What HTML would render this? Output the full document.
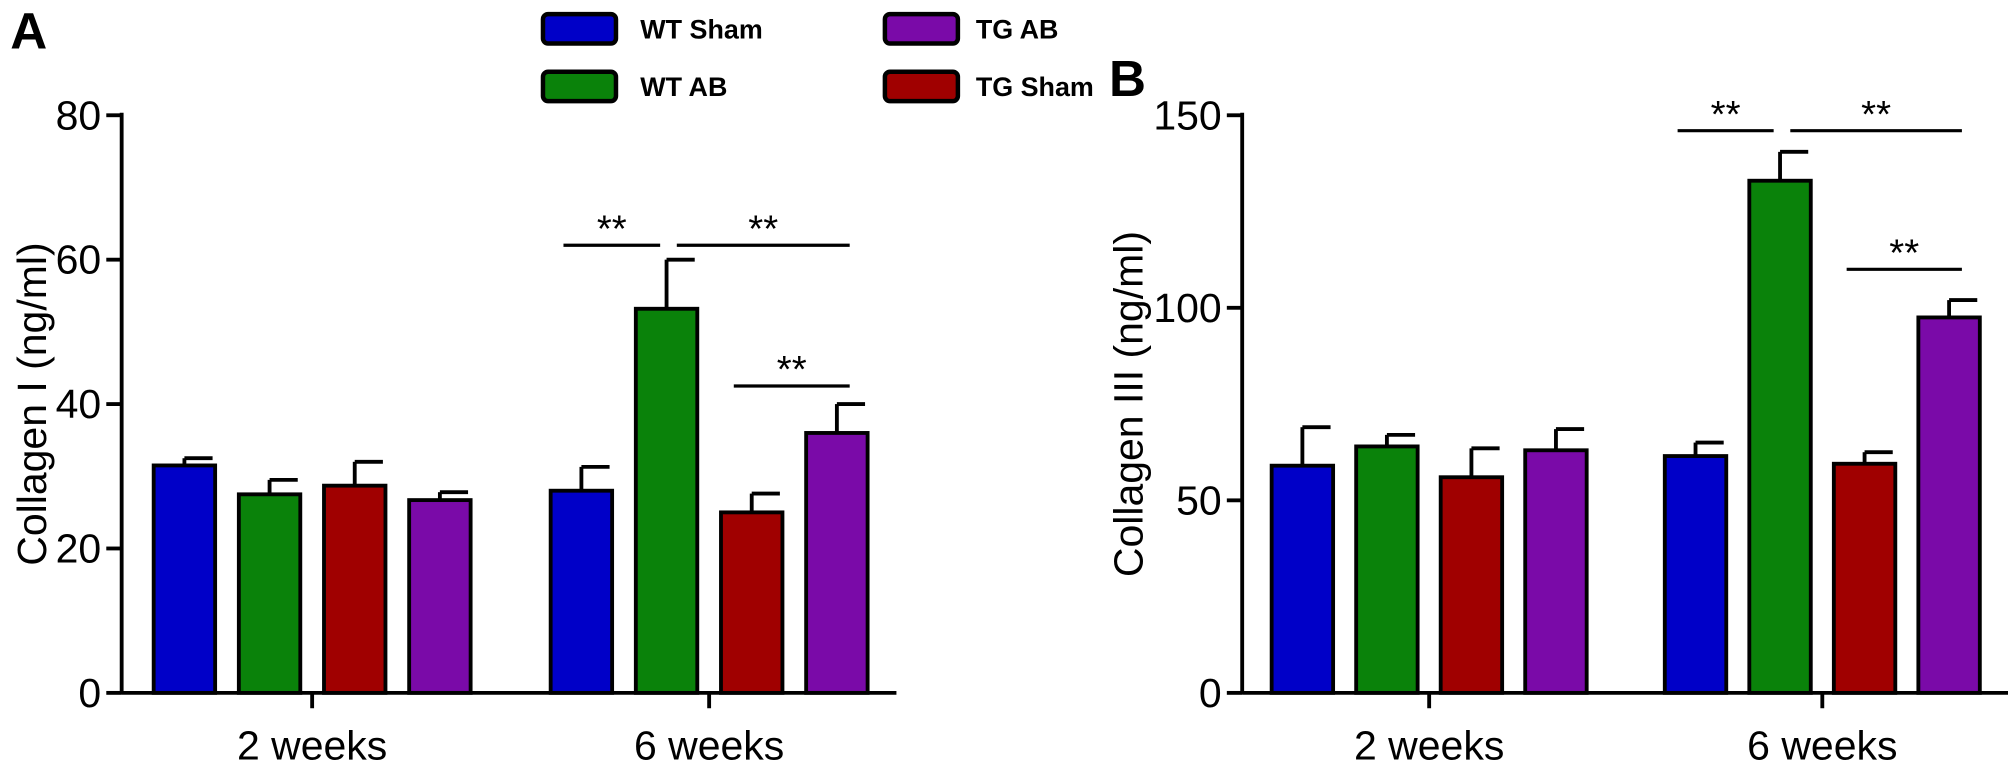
<!DOCTYPE html>
<html><head><meta charset="utf-8"><style>
body{margin:0;background:#fff;}
svg{display:block;font-family:"Liberation Sans",Arial,sans-serif;}
</style></head><body>
<svg id="chart" width="2008" height="771" viewBox="0 0 1568 602" preserveAspectRatio="none">
<text x="8" y="38" font-size="40" font-weight="bold">A</text>
<text x="866" y="75" font-size="40" font-weight="bold">B</text>
<g id="legend">
<g><rect x="424" y="11" width="57" height="23" rx="4" fill="#0000c8" stroke="#000" stroke-width="3.5"/><text x="500" y="30" font-size="21" font-weight="bold">WT Sham</text></g>
<g><rect x="424" y="56" width="57" height="23" rx="4" fill="#0a820a" stroke="#000" stroke-width="3.5"/><text x="500" y="75" font-size="21" font-weight="bold">WT AB</text></g>
<g><rect x="691" y="11" width="57" height="23" rx="4" fill="#7a0aa8" stroke="#000" stroke-width="3.5"/><text x="762" y="30" font-size="21" font-weight="bold">TG AB</text></g>
<g><rect x="691" y="56" width="57" height="23" rx="4" fill="#a00000" stroke="#000" stroke-width="3.5"/><text x="762" y="75" font-size="21" font-weight="bold">TG Sham</text></g>
</g>
</svg>
<script>
const groups=["2 weeks","6 weeks"];
const series=["WT Sham","WT AB","TG Sham","TG AB"];
const colors=["#0000c8","#0a820a","#a00000","#7a0aa8"];
const aMeans=[[31.5,27.5,28.7,26.7],[28,53.2,25,36]];
const aErr=[[1,2,3.3,1.1],[3.3,6.8,2.6,4]];
const aTicks=[0,20,40,60,80];
const bMeans=[[59,64,56,63],[61.5,133,59.5,97.5]];
const bErr=[[10,3,7.5,5.5],[3.5,7.5,3,4.5]];
const bTicks=[0,50,100,150];
const aSig=[[0,1,62],[1,3,62],[2,3,42.5]];
const bSig=[[0,1,146],[1,3,146],[2,3,110]];
const NS="http://www.w3.org/2000/svg";
const svg=document.getElementById('chart');
function mk(tag,attrs,parent){const e=document.createElementNS(NS,tag);for(const k in attrs)e.setAttribute(k,attrs[k]);(parent||svg).appendChild(e);return e;}
function panel(p){
  const g=mk('g',{});
  
  
  const y=v=>p.y0-(v/p.max)*(p.y0-90);
  const x=(gi,si)=>p.x0+gi*p.gStep+si*p.bStep;
  const ya=mk('line',{x1:p.ax,y1:88,x2:p.ax,y2:p.y0+1,stroke:'#000','stroke-width':3},g);
  
  const xa=mk('line',{x1:p.ax,y1:p.y0,x2:p.axEnd,y2:p.y0,stroke:'#000','stroke-width':3},g);
  
  p.ticks.forEach(t=>{
    mk('line',{x1:p.ax-12,y1:y(t),x2:p.ax,y2:y(t),stroke:'#000','stroke-width':3},g);
    const tl=mk('text',{x:p.ax-16,y:y(t)+11,'font-size':32,'text-anchor':'end'},g);tl.textContent=t;
    
  });
  const cx=p.titleX, cy=(p.y0+90)/2;
  const yt=mk('text',{x:cx,y:cy,'font-size':32,'text-anchor':'middle',transform:`rotate(-90 ${cx} ${cy})`},g);
  yt.textContent=p.title;
  groups.forEach((gn,gi)=>{
    const gx=x(gi,0)+(3*p.bStep+p.bw)/2;
    mk('line',{x1:gx,y1:p.y0,x2:gx,y2:p.y0+12,stroke:'#000','stroke-width':3},g);
    const gl=mk('text',{x:gx,y:p.y0+52,'font-size':32,'text-anchor':'middle'},g);gl.textContent=gn;
    
    series.forEach((s,si)=>{
      const v=p.means[gi][si],e=p.err[gi][si],bx=x(gi,si);
      const el=mk('line',{x1:bx+p.bw/2,y1:y(v+e),x2:bx+p.bw/2,y2:y(v),stroke:'#000','stroke-width':3},g);
      
      mk('line',{x1:bx+p.bw/2,y1:y(v+e),x2:bx+p.bw-2,y2:y(v+e),stroke:'#000','stroke-width':3},g);
      const r=mk('rect',{x:bx,y:y(v),width:p.bw,height:p.y0-y(v),fill:colors[si],stroke:'#000','stroke-width':3},g);
      
    });
  });
  p.sig.forEach(([a,b,v])=>{
    const x1=(a===1)?x(1,a)+p.bw/2+8:x(1,a)+10;
    const x2=(b===1)?x(1,b)+p.bw/2-5:x(1,b)+p.bw-14;
    const l=mk('line',{x1:x1,y1:y(v),x2:x2,y2:y(v),stroke:'#000','stroke-width':2.5},g);
    
    const st=mk('text',{x:(x1+x2)/2,y:y(v)-3,'font-size':30,'text-anchor':'middle'},g);st.textContent='**';
    
  });
}
panel({name:'panel-a',ax:95,axEnd:700,y0:541,max:80,x0:120,gStep:310,bStep:66.5,bw:48,ticks:aTicks,means:aMeans,err:aErr,sig:aSig,title:'Collagen I (ng/ml)',titleX:36});
panel({name:'panel-b',ax:970,axEnd:1570,y0:541,max:150,x0:993,gStep:307,bStep:66,bw:48,ticks:bTicks,means:bMeans,err:bErr,sig:bSig,title:'Collagen III (ng/ml)',titleX:892});
</script>
</body></html>
